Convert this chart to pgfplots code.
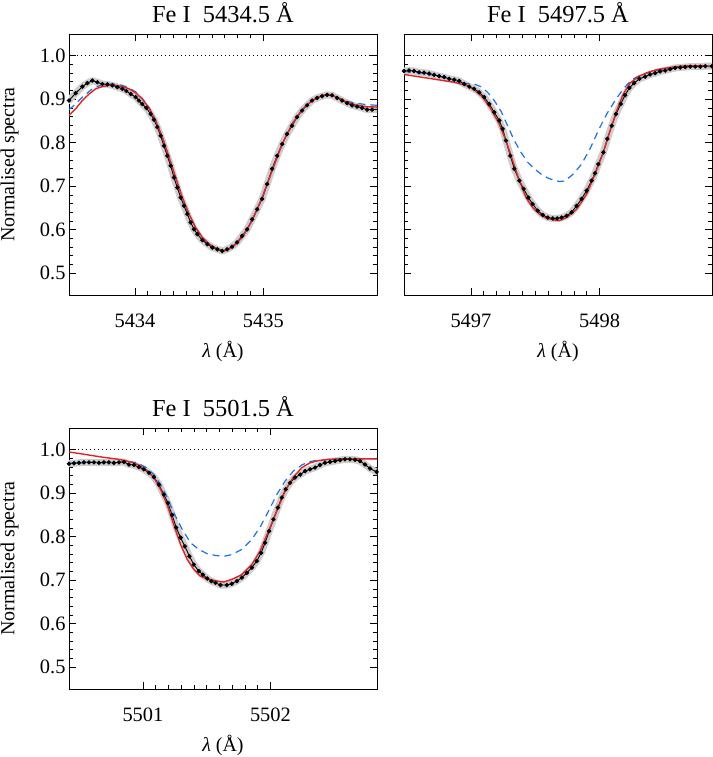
\documentclass[border=0pt]{standalone}
\usepackage{pgfplots}
\pgfplotsset{compat=1.18}
\usepackage{fontspec}
\setmainfont{Liberation Serif}

\definecolor{modred}{RGB}{228,36,36}
\definecolor{modblue}{RGB}{25,112,240}
\definecolor{band}{RGB}{205,205,205}

\pgfplotsset{
  panel/.style={
    scale only axis, width=308bp, height=261bp,
    ymin=0.45, ymax=1.05,
    ytick={0.5,0.6,0.7,0.8,0.9,1.0},
    minor y tick num=4, minor x tick num=9,
    tick align=inside,
    major tick length=7bp, minor tick length=4bp,
    every tick/.style={black, line width=0.7bp},
    axis line style={line width=0.9bp},
    /pgf/number format/assume math mode=true,
    yticklabel style={/pgf/number format/fixed, /pgf/number format/fixed zerofill, /pgf/number format/precision=1},
    xticklabel style={/pgf/number format/1000 sep={}, yshift=-15bp},
    tick label style={font=\fontsize{20.5}{21}\selectfont},
    title style={font=\fontsize{24.5}{25}\selectfont, yshift=2bp},
    xlabel={\textit{λ} (Å)},
    every axis x label/.style={at={(rel axis cs:0.5,-0.218)}, anchor=center, font=\fontsize{20}{21}\selectfont},
    every axis y label/.style={at={(rel axis cs:-0.193,0.5)}, rotate=90, anchor=center, font=\fontsize{20}{21}\selectfont},
    clip=true,
  },
  obsband/.style={band, line width=7bp, line join=round, line cap=round},
  obs/.style={black, line width=0.9bp, mark=*, mark size=1.7bp},
  fitblue/.style={modblue, line width=1.2bp, dash pattern=on 7bp off 5bp},
  fitred/.style={modred, line width=1.4bp},
}

\begin{document}
\begin{tikzpicture}
\useasboundingbox (0,0) rectangle (713bp,757bp);

% ---------------- Fe I 5434.5
\begin{axis}[panel, at={(69bp,462bp)}, anchor=south west,
  xmin=5433.486, xmax=5435.886, xtick={5434,5435},
  title={Fe I\ \ 5434.5 Å}, ylabel={Normalised spectra}]
\addplot[black, line width=0.7bp, dash pattern=on 1bp off 3bp] coordinates {(5433.3,1) (5436.0,1)};
\pgfplotstableread{
x y
5433.486 0.897
5433.538 0.914
5433.590 0.929
5433.629 0.937
5433.668 0.943
5433.707 0.939
5433.746 0.935
5433.785 0.934
5433.824 0.932
5433.863 0.928
5433.902 0.924
5433.933 0.919
5433.967 0.912
5434.005 0.905
5434.031 0.897
5434.057 0.889
5434.089 0.880
5434.122 0.866
5434.148 0.853
5434.174 0.836
5434.200 0.816
5434.226 0.793
5434.252 0.770
5434.278 0.747
5434.304 0.720
5434.330 0.697
5434.356 0.674
5434.382 0.655
5434.408 0.636
5434.434 0.617
5434.460 0.601
5434.486 0.590
5434.525 0.576
5434.564 0.567
5434.603 0.559
5434.642 0.555
5434.680 0.551
5434.718 0.555
5434.757 0.561
5434.796 0.571
5434.835 0.586
5434.874 0.601
5434.913 0.624
5434.952 0.647
5434.991 0.671
5435.030 0.705
5435.069 0.740
5435.108 0.770
5435.147 0.797
5435.185 0.820
5435.224 0.839
5435.263 0.859
5435.302 0.874
5435.341 0.886
5435.380 0.897
5435.419 0.903
5435.458 0.907
5435.497 0.910
5435.536 0.909
5435.575 0.903
5435.614 0.897
5435.653 0.891
5435.692 0.886
5435.731 0.883
5435.770 0.880
5435.809 0.876
5435.848 0.876
5435.887 0.877
}\obsA
\addplot[obsband] table {\obsA};
\addplot[obs] table {\obsA};
\addplot[fitblue] coordinates {
(5433.486,0.876) (5433.538,0.889) (5433.590,0.905) (5433.668,0.924) (5433.746,0.934)
(5433.824,0.935) (5433.902,0.932) (5433.954,0.926) (5434.005,0.917) (5434.057,0.902)
(5434.109,0.881) (5434.161,0.851) (5434.213,0.813) (5434.265,0.767) (5434.317,0.720)
(5434.369,0.674) (5434.421,0.636) (5434.473,0.605) (5434.525,0.582) (5434.577,0.567)
(5434.629,0.558) (5434.694,0.552) (5434.757,0.559) (5434.835,0.582) (5434.913,0.621)
(5434.991,0.674) (5435.069,0.736) (5435.147,0.797) (5435.224,0.843) (5435.302,0.876)
(5435.380,0.897) (5435.458,0.909) (5435.510,0.911) (5435.575,0.905) (5435.640,0.896)
(5435.718,0.891) (5435.796,0.888) (5435.887,0.886)};
\addplot[fitred] coordinates {
(5433.486,0.863) (5433.538,0.878) (5433.590,0.897) (5433.642,0.912) (5433.694,0.924)
(5433.746,0.929) (5433.798,0.932) (5433.850,0.932) (5433.902,0.929) (5433.954,0.924)
(5434.005,0.915) (5434.057,0.901) (5434.109,0.880) (5434.161,0.851) (5434.213,0.813)
(5434.265,0.767) (5434.317,0.720) (5434.369,0.674) (5434.421,0.636) (5434.473,0.605)
(5434.525,0.582) (5434.577,0.567) (5434.629,0.558) (5434.694,0.551) (5434.757,0.559)
(5434.835,0.582) (5434.913,0.621) (5434.991,0.674) (5435.069,0.736) (5435.147,0.797)
(5435.224,0.843) (5435.302,0.876) (5435.380,0.897) (5435.458,0.909) (5435.510,0.911)
(5435.575,0.905) (5435.640,0.895) (5435.718,0.887) (5435.796,0.883) (5435.887,0.882)};
\end{axis}

% ---------------- Fe I 5497.5
\begin{axis}[panel, at={(404bp,462bp)}, anchor=south west,
  xmin=5496.48, xmax=5498.873, xtick={5497,5498}, yticklabels={},
  title={Fe I\ \ 5497.5 Å}]
\addplot[black, line width=0.7bp, dash pattern=on 1bp off 3bp] coordinates {(5496.3,1) (5499.0,1)};
\pgfplotstableread{
x y
5496.480 0.965
5496.519 0.966
5496.558 0.965
5496.597 0.962
5496.636 0.961
5496.675 0.959
5496.714 0.956
5496.753 0.953
5496.792 0.951
5496.831 0.947
5496.870 0.945
5496.909 0.942
5496.948 0.935
5496.987 0.929
5497.025 0.924
5497.064 0.916
5497.103 0.905
5497.142 0.889
5497.181 0.870
5497.220 0.851
5497.246 0.832
5497.272 0.805
5497.306 0.770
5497.337 0.740
5497.376 0.713
5497.410 0.694
5497.446 0.674
5497.480 0.659
5497.519 0.644
5497.558 0.634
5497.597 0.628
5497.636 0.626
5497.670 0.626
5497.704 0.628
5497.743 0.632
5497.782 0.640
5497.821 0.655
5497.860 0.671
5497.899 0.690
5497.938 0.713
5497.964 0.730
5497.990 0.751
5498.029 0.778
5498.060 0.809
5498.094 0.839
5498.127 0.866
5498.164 0.889
5498.197 0.909
5498.231 0.926
5498.268 0.937
5498.309 0.947
5498.353 0.952
5498.392 0.957
5498.431 0.960
5498.470 0.964
5498.509 0.966
5498.548 0.969
5498.587 0.972
5498.626 0.973
5498.665 0.974
5498.704 0.975
5498.743 0.975
5498.782 0.975
5498.821 0.976
5498.873 0.976
}\obsB
\addplot[obsband] table {\obsB};
\addplot[obs] table {\obsB};
\addplot[fitblue] coordinates {
(5496.480,0.964) (5496.597,0.961) (5496.714,0.955) (5496.831,0.947) (5496.961,0.936)
(5497.025,0.935) (5497.077,0.929) (5497.129,0.916) (5497.181,0.897) (5497.233,0.873)
(5497.285,0.839) (5497.337,0.805) (5497.389,0.778) (5497.441,0.755) (5497.493,0.740)
(5497.545,0.728) (5497.597,0.719) (5497.649,0.713) (5497.688,0.711) (5497.730,0.712)
(5497.795,0.728) (5497.860,0.751) (5497.925,0.786) (5497.990,0.828) (5498.055,0.866)
(5498.120,0.897) (5498.184,0.924) (5498.249,0.945) (5498.314,0.955) (5498.379,0.961)
(5498.444,0.966) (5498.522,0.971) (5498.600,0.975) (5498.704,0.977) (5498.782,0.977)
(5498.873,0.975)};
\addplot[fitred] coordinates {
(5496.480,0.957) (5496.610,0.951) (5496.740,0.945) (5496.870,0.939) (5496.961,0.932)
(5497.025,0.922) (5497.090,0.905) (5497.155,0.878) (5497.220,0.843) (5497.272,0.805)
(5497.324,0.759) (5497.376,0.713) (5497.428,0.674) (5497.480,0.651) (5497.532,0.636)
(5497.584,0.627) (5497.636,0.623) (5497.688,0.621) (5497.743,0.628) (5497.821,0.647)
(5497.899,0.682) (5497.964,0.728) (5498.029,0.778) (5498.081,0.828) (5498.133,0.874)
(5498.184,0.912) (5498.236,0.937) (5498.301,0.952) (5498.366,0.961) (5498.444,0.968)
(5498.522,0.972) (5498.600,0.975) (5498.704,0.977) (5498.782,0.977) (5498.873,0.975)};
\end{axis}

% ---------------- Fe I 5501.5
\begin{axis}[panel, at={(69bp,68bp)}, anchor=south west,
  xmin=5500.42, xmax=5502.836, xtick={5501,5502},
  title={Fe I\ \ 5501.5 Å}, ylabel={Normalised spectra}]
\addplot[black, line width=0.7bp, dash pattern=on 1bp off 3bp] coordinates {(5500.3,1) (5503.0,1)};
\pgfplotstableread{
x y
5500.420 0.968
5500.459 0.969
5500.498 0.970
5500.537 0.971
5500.577 0.971
5500.616 0.971
5500.655 0.970
5500.694 0.971
5500.733 0.971
5500.772 0.970
5500.812 0.971
5500.851 0.972
5500.890 0.966
5500.929 0.965
5500.968 0.960
5501.007 0.955
5501.047 0.947
5501.086 0.937
5501.125 0.920
5501.164 0.897
5501.195 0.878
5501.229 0.850
5501.261 0.821
5501.295 0.798
5501.329 0.778
5501.365 0.755
5501.399 0.736
5501.438 0.721
5501.470 0.713
5501.504 0.704
5501.537 0.698
5501.569 0.694
5501.608 0.689
5501.658 0.689
5501.697 0.692
5501.737 0.698
5501.776 0.706
5501.815 0.717
5501.854 0.729
5501.893 0.744
5501.927 0.763
5501.958 0.786
5501.990 0.813
5502.024 0.840
5502.058 0.867
5502.089 0.890
5502.120 0.909
5502.154 0.924
5502.193 0.936
5502.233 0.943
5502.272 0.951
5502.311 0.955
5502.350 0.959
5502.389 0.965
5502.428 0.970
5502.468 0.972
5502.507 0.974
5502.546 0.976
5502.585 0.978
5502.624 0.978
5502.663 0.977
5502.703 0.974
5502.742 0.966
5502.781 0.957
5502.833 0.949
}\obsC
\addplot[obsband] table {\obsC};
\addplot[obs] table {\obsC};
\addplot[fitblue] coordinates {
(5500.420,0.969) (5500.600,0.971) (5500.760,0.971) (5500.890,0.973) (5500.955,0.970)
(5501.020,0.960) (5501.086,0.943) (5501.138,0.920) (5501.190,0.890) (5501.242,0.855)
(5501.308,0.817) (5501.373,0.786) (5501.438,0.771) (5501.504,0.761) (5501.569,0.757)
(5501.634,0.755) (5501.697,0.759) (5501.776,0.771) (5501.854,0.794) (5501.919,0.822)
(5501.985,0.859) (5502.050,0.897) (5502.115,0.928) (5502.180,0.951) (5502.246,0.965)
(5502.298,0.972) (5502.350,0.975) (5502.455,0.978) (5502.559,0.979) (5502.663,0.979)
(5502.833,0.979)};
\addplot[fitred] coordinates {
(5500.420,0.995) (5500.551,0.989) (5500.681,0.983) (5500.812,0.978) (5500.903,0.972)
(5500.968,0.965) (5501.034,0.952) (5501.086,0.936) (5501.138,0.909) (5501.190,0.874)
(5501.242,0.828) (5501.295,0.782) (5501.347,0.748) (5501.399,0.725) (5501.451,0.709)
(5501.517,0.702) (5501.582,0.698) (5501.634,0.696) (5501.697,0.702) (5501.776,0.713)
(5501.854,0.736) (5501.919,0.767) (5501.985,0.813) (5502.050,0.859) (5502.115,0.905)
(5502.180,0.937) (5502.246,0.959) (5502.311,0.970) (5502.376,0.975) (5502.455,0.978)
(5502.559,0.979) (5502.663,0.979) (5502.833,0.979)};
\end{axis}
\end{tikzpicture}
\end{document}
